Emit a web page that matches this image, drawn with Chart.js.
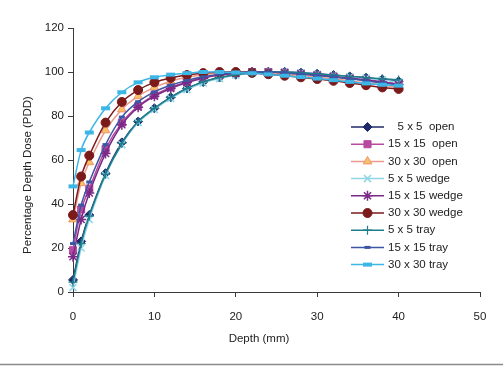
<!DOCTYPE html>
<html>
<head>
<meta charset="utf-8">
<script src="https://cdn.jsdelivr.net/npm/chart.js@4/dist/chart.umd.min.js"></script>
<style>
  html, body { margin: 0; padding: 0; background: #fff; }
  #wrap { position: relative; width: 503px; height: 367px; }
</style>
</head>
<body>
<div id="wrap"><canvas id="c"></canvas></div>
<script>
// depth (mm) at which the dose was measured
const depth = [0, 1, 2, 4, 6, 8, 10, 12, 14, 16, 18, 20, 22, 24, 26, 28, 30, 32, 34, 36, 38, 40];

const open5    = [5.5, 23, 35, 54, 68, 77.5, 83.5, 88.5, 92.5, 95.5, 97.5, 98.8, 99.6, 100, 100, 99.7, 99.2, 98.6, 98, 97.4, 96.6, 95.8];
const open15   = [19, 37.5, 47, 65, 77, 84.5, 89.5, 93, 95.5, 97.5, 98.8, 99.5, 100, 100, 99.7, 99.2, 98.6, 98, 97.2, 96.5, 95.6, 94.5];
const open30   = [33, 49.5, 59, 73.5, 83, 89, 93, 95.8, 97.6, 98.8, 99.6, 100, 100, 99.6, 99, 98.4, 97.7, 96.9, 96, 95, 94, 93];
const wedge5   = [2, 20, 33, 53, 67, 77, 83, 88, 92, 95, 97, 98.5, 99.5, 100, 100, 99.6, 99, 98.4, 97.8, 97.2, 96.4, 95.5];
const wedge15  = [16, 33, 45, 63, 76, 84, 89, 92.5, 95.2, 97.2, 98.6, 99.4, 100, 100, 99.7, 99.2, 98.6, 97.9, 97.1, 96.3, 95.4, 94.3];
const wedge30  = [35, 52.5, 62, 77, 86.4, 91.8, 95.3, 97.3, 98.6, 99.5, 100, 100, 99.6, 99, 98.3, 97.6, 96.8, 96, 95, 94, 93, 92.3];
const tray5    = [4.5, 22, 34.5, 53.5, 67.5, 77.5, 83.5, 88.5, 92.5, 95.5, 97.5, 98.8, 99.6, 100, 100, 99.7, 99.2, 98.6, 98, 97.4, 96.9, 96.4];
const tray15   = [22, 39.5, 50, 67, 79.5, 86.5, 91, 94, 96.2, 97.8, 99, 99.7, 100, 100, 99.6, 99, 98.4, 97.7, 96.9, 96, 95, 94];
const tray30   = [48, 64.5, 72.5, 83.5, 90.8, 95.3, 97.6, 98.8, 99.5, 100, 100, 99.8, 99.4, 98.9, 98.3, 97.7, 97, 96.3, 95.5, 94.8, 94.2, 93.8];

const seriesNames = ['   5 x 5  open', '15 x 15  open', '30 x 30  open', '5 x 5 wedge', '15 x 15 wedge',
                     '30 x 30 wedge', '5 x 5 tray', '15 x 15 tray', '30 x 30 tray'];
const seriesData = [open5, open15, open30, wedge5, wedge15, wedge30, tray5, tray15, tray30];

const xTicks = [0, 10, 20, 30, 40, 50];
const yTicks = [0, 20, 40, 60, 80, 100, 120];

// marker look per series
const styles = [
  { line: '#1f2a6b', fill: '#1f2a6b', edge: '#1f2a6b', shape: 'rectRot', r: 4.5, bw: 1 },
  { line: '#b64a9f', fill: '#b64a9f', edge: '#b64a9f', shape: 'rect', r: 5, bw: 1 },
  { line: '#ea9a8c', fill: '#f9c06a', edge: '#f0956a', shape: 'triangle', r: 5, bw: 1 },
  { line: '#8fd6e6', fill: '#8fd6e6', edge: '#8fd6e6', shape: 'crossRot', r: 5, bw: 1.5 },
  { line: '#7a2a86', fill: '#7a2a86', edge: '#7a2a86', shape: 'star', r: 5, bw: 1.5 },
  { line: '#7b1a1a', fill: '#7b1a1a', edge: '#7b1a1a', shape: 'circle', r: 4.5, bw: 1 },
  { line: '#1f7d8c', fill: '#1f7d8c', edge: '#1f7d8c', shape: 'cross', r: 4.5, bw: 1.2 },
  { line: '#3d55a5', fill: '#3d55a5', edge: '#3d55a5', shape: 'line', r: 3, bw: 3 },
  { line: '#3cb6e6', fill: '#3cb6e6', edge: '#3cb6e6', shape: 'line', r: 4.5, bw: 4 },
];

const FONT = '"Liberation Sans", Arial, sans-serif';
const axisColor = '#3a3a3a';

const datasets = seriesData.map((vals, i) => ({
  label: seriesNames[i],
  data: vals.map((v, j) => ({ x: depth[j], y: v })),
  borderColor: styles[i].line,
  borderWidth: 1.5,
  pointStyle: styles[i].shape,
  pointRadius: styles[i].r,
  pointBackgroundColor: styles[i].fill,
  pointBorderColor: styles[i].edge,
  pointBorderWidth: styles[i].bw,
  tension: 0.3,
  fill: false,
  clip: false,
  order: seriesData.length - i,
}));

// axis titles, legend box and the frame line at the bottom
const extras = {
  id: 'extras',
  afterDraw(chart) {
    const ctx = chart.ctx;
    ctx.save();
    ctx.fillStyle = '#222';
    ctx.font = '11.5px ' + FONT;
    ctx.textAlign = 'center';
    ctx.textBaseline = 'middle';
    ctx.fillText('Depth (mm)', 259, 339);
    ctx.translate(28, 175);
    ctx.rotate(-Math.PI / 2);
    ctx.fillText('Percentage Depth Dose (PDD)', 0, 0);
    ctx.restore();

    ctx.save();
    ctx.font = '11.5px ' + FONT;
    ctx.textBaseline = 'middle';
    seriesNames.forEach((name, i) => {
      const y = 127 + i * 17.2;
      const st = styles[i];
      ctx.strokeStyle = st.line;
      ctx.lineWidth = 1.5;
      ctx.beginPath();
      ctx.moveTo(351, y);
      ctx.lineTo(384, y);
      ctx.stroke();
      ctx.fillStyle = st.fill;
      ctx.strokeStyle = st.edge;
      ctx.lineWidth = st.bw;
      Chart.helpers.drawPoint(ctx, { pointStyle: st.shape, radius: st.r, rotation: 0, borderWidth: st.bw }, 367.5, y);
      ctx.fillStyle = '#222';
      ctx.fillText(name, 388, y);
    });
    ctx.restore();

    ctx.save();
    ctx.strokeStyle = '#8a8a8a';
    ctx.lineWidth = 1.5;
    ctx.beginPath();
    ctx.moveTo(0, 364.5);
    ctx.lineTo(503, 364.5);
    ctx.stroke();
    ctx.restore();
  }
};

new Chart(document.getElementById('c'), {
  type: 'line',
  data: { datasets },
  options: {
    responsive: true,
    maintainAspectRatio: false,
    animation: false,
    layout: { padding: { top: 28, right: 23, left: 0, bottom: 0 } },
    plugins: { legend: { display: false }, tooltip: { enabled: false } },
    scales: {
      x: {
        type: 'linear',
        min: 0, max: 50,
        afterBuildTicks: s => { s.ticks = xTicks.map(v => ({ value: v })); },
        afterFit: s => { s.height = 75; },
        ticks: { color: '#222', font: { family: FONT, size: 11.5 }, padding: 13 },
        grid: { drawOnChartArea: false, drawTicks: true, tickLength: 5, color: axisColor },
        border: { color: axisColor, width: 1 },
      },
      y: {
        type: 'linear',
        min: 0, max: 120,
        afterBuildTicks: s => { s.ticks = yTicks.map(v => ({ value: v })); },
        afterFit: s => { s.width = 73; },
        ticks: { color: '#222', font: { family: FONT, size: 11.5 }, padding: 4 },
        grid: { drawOnChartArea: false, drawTicks: true, tickLength: 5, color: axisColor },
        border: { color: axisColor, width: 1 },
      }
    }
  },
  plugins: [extras]
});
</script>
</body>
</html>
